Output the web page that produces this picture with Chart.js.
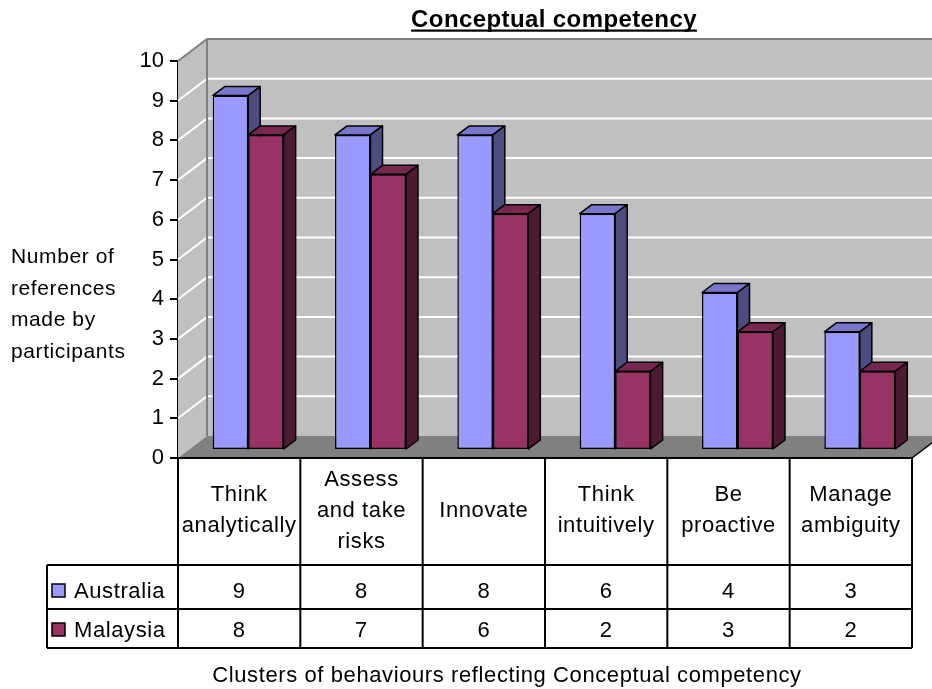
<!DOCTYPE html>
<html>
<head>
<meta charset="utf-8">
<script src="https://cdn.jsdelivr.net/npm/chart.js@4/dist/chart.umd.min.js"></script>
<style>
  html, body { margin: 0; padding: 0; background: #ffffff; }
  #wrap { width: 932px; height: 689px; }
</style>
</head>
<body>
<div id="wrap"><canvas id="chart" width="932" height="689"></canvas></div>
<script>
// Category labels (one array entry per line of text)
const categories = [
  ['Think', 'analytically'],
  ['Assess', 'and take', 'risks'],
  ['Innovate'],
  ['Think', 'intuitively'],
  ['Be', 'proactive'],
  ['Manage', 'ambiguity']
];
const seriesNames = ['Australia', 'Malaysia'];
const australia = [9, 8, 8, 6, 4, 3];
const malaysia = [8, 7, 6, 2, 3, 2];
const yMin = 0;
const yMax = 10;
const yStep = 1;

const chartTitle = 'Conceptual competency';
const yTitleLines = ['Number of', 'references', 'made by', 'participants'];
const xTitle = 'Clusters of behaviours reflecting Conceptual competency';

const FONT = '"Liberation Sans", Arial, sans-serif';

const faceColors = [
  { front: '#9999FF', top: '#7777CC', side: '#4D4D80' },
  { front: '#993366', top: '#782850', side: '#4D1A33' }
];

// Oblique projection of the 3D box: wall depth and bar depth
const WALL_DX = 29, WALL_DY = -22;
const BAR_SHIFT_X = 9, BAR_SHIFT_Y = -8;   // bars sit slightly behind the front plane
const BAR_DX = 12, BAR_DY = -9;            // bar depth
const BAR_SCALE = 0.992;                   // slight perspective shrink at bar depth

// Table rows
const TABLE = { headerBottom: 565, row1Bottom: 609, row2Bottom: 648, legendLeft: 47 };

// Top and side faces of each bar of one dataset
function drawBarFaces(ctx, meta, colors) {
  const dy = BAR_DY / BAR_SCALE;
  ctx.save();
  ctx.strokeStyle = '#000000';
  ctx.lineWidth = 1.5;
  ctx.lineJoin = 'round';
  meta.data.forEach(bar => {
    const { x, y, width, base } = bar.getProps(['x', 'y', 'width', 'base'], true);
    const x0 = x - width / 2, x1 = x + width / 2;
    ctx.fillStyle = colors.top;
    ctx.beginPath();
    ctx.moveTo(x0, y);
    ctx.lineTo(x0 + BAR_DX, y + dy);
    ctx.lineTo(x1 + BAR_DX, y + dy);
    ctx.lineTo(x1, y);
    ctx.closePath();
    ctx.fill();
    ctx.stroke();
    ctx.fillStyle = colors.side;
    ctx.beginPath();
    ctx.moveTo(x1, y);
    ctx.lineTo(x1 + BAR_DX, y + dy);
    ctx.lineTo(x1 + BAR_DX, base + dy);
    ctx.lineTo(x1, base);
    ctx.closePath();
    ctx.fill();
    ctx.stroke();
  });
  ctx.restore();
}

const scene3d = {
  id: 'scene3d',
  beforeDatasetsDraw(chart) {
    const { ctx, chartArea, scales: { y } } = chart;
    const { left, right, top, bottom } = chartArea;
    const W = chart.width;
    ctx.save();
    // back wall
    ctx.fillStyle = '#C0C0C0';
    ctx.fillRect(left + WALL_DX, top + WALL_DY, W - left - WALL_DX, bottom - top);
    // side wall
    ctx.beginPath();
    ctx.moveTo(left, top);
    ctx.lineTo(left + WALL_DX, top + WALL_DY);
    ctx.lineTo(left + WALL_DX, bottom + WALL_DY);
    ctx.lineTo(left, bottom);
    ctx.closePath();
    ctx.fill();
    // gridlines across side and back walls
    ctx.strokeStyle = '#FFFFFF';
    ctx.lineWidth = 2;
    for (let v = yMin + yStep; v < yMax; v += yStep) {
      const py = y.getPixelForValue(v);
      ctx.beginPath();
      ctx.moveTo(left, py);
      ctx.lineTo(left + WALL_DX, py + WALL_DY);
      ctx.lineTo(W, py + WALL_DY);
      ctx.stroke();
    }
    // wall edges
    ctx.strokeStyle = '#808080';
    ctx.lineWidth = 2;
    ctx.beginPath();
    ctx.moveTo(left, top);
    ctx.lineTo(left + WALL_DX, top + WALL_DY);
    ctx.lineTo(W, top + WALL_DY);
    ctx.moveTo(left + WALL_DX, top + WALL_DY);
    ctx.lineTo(left + WALL_DX, bottom + WALL_DY);
    ctx.stroke();
    // floor
    ctx.fillStyle = '#808080';
    ctx.beginPath();
    ctx.moveTo(left, bottom);
    ctx.lineTo(right, bottom);
    ctx.lineTo(right + WALL_DX, bottom + WALL_DY);
    ctx.lineTo(left + WALL_DX, bottom + WALL_DY);
    ctx.closePath();
    ctx.fill();
    ctx.strokeStyle = '#000000';
    ctx.lineWidth = 1.5;
    ctx.beginPath();
    ctx.moveTo(right, bottom);
    ctx.lineTo(right + WALL_DX, bottom + WALL_DY);
    ctx.stroke();
    ctx.restore();

    // bars are drawn in the plane slightly behind the front
    const base = y.getPixelForValue(0);
    ctx.save();
    ctx.translate(BAR_SHIFT_X, base + BAR_SHIFT_Y);
    ctx.scale(1, BAR_SCALE);
    ctx.translate(0, -base);
  },
  afterDatasetsDraw(chart) {
    const { ctx } = chart;
    // Australia (left bar) faces first, then the Malaysia bar in front of its side face
    const metaAus = chart.getDatasetMeta(0);
    const metaMal = chart.getDatasetMeta(1);
    drawBarFaces(ctx, metaAus, faceColors[0]);
    metaMal.data.forEach(el => el.draw(ctx));
    drawBarFaces(ctx, metaMal, faceColors[1]);
    ctx.restore();
  }
};

const tableAndTitles = {
  id: 'tableAndTitles',
  afterDraw(chart) {
    const { ctx, chartArea: { left, right, bottom }, scales: { x } } = chart;
    const colW = x.getPixelForValue(1) - x.getPixelForValue(0);
    ctx.save();
    ctx.fillStyle = '#000000';
    ctx.strokeStyle = '#000000';
    ctx.lineWidth = 2;

    // table grid
    ctx.beginPath();
    ctx.moveTo(left, bottom); ctx.lineTo(right, bottom);
    [TABLE.headerBottom, TABLE.row1Bottom, TABLE.row2Bottom].forEach(yy => {
      ctx.moveTo(TABLE.legendLeft, yy); ctx.lineTo(right, yy);
    });
    ctx.moveTo(TABLE.legendLeft, TABLE.headerBottom); ctx.lineTo(TABLE.legendLeft, TABLE.row2Bottom);
    for (let i = 0; i <= categories.length; i++) {
      const bx = x.getPixelForValue(0) - colW / 2 + i * colW;
      ctx.moveTo(bx, bottom); ctx.lineTo(bx, TABLE.row2Bottom);
    }
    ctx.stroke();

    // header labels
    ctx.font = '22px ' + FONT;
    ctx.letterSpacing = '0.6px';
    ctx.textAlign = 'center';
    ctx.textBaseline = 'alphabetic';
    const headerMid = (bottom + TABLE.headerBottom) / 2 - 2;
    const lh = 31;
    categories.forEach((lines, i) => {
      const cx = x.getPixelForValue(i);
      lines.forEach((t, k) => {
        ctx.fillText(t, cx, headerMid + (k - (lines.length - 1) / 2) * lh + 7);
      });
    });

    // values
    const rowBase = [598, 637];
    [australia, malaysia].forEach((vals, r) => {
      vals.forEach((v, i) => {
        ctx.fillText(String(v), x.getPixelForValue(i), rowBase[r]);
      });
    });

    // legend keys
    ctx.textAlign = 'left';
    seriesNames.forEach((name, r) => {
      ctx.fillStyle = faceColors[r].front;
      ctx.fillRect(52, rowBase[r] - 14, 13, 13);
      ctx.lineWidth = 1.5;
      ctx.strokeRect(52, rowBase[r] - 14, 13, 13);
      ctx.fillStyle = '#000000';
      ctx.fillText(name, 74, rowBase[r]);
    });

    // y title
    ctx.font = '21px ' + FONT;
    yTitleLines.forEach((t, k) => {
      ctx.fillText(t, 11, 263 + k * 31.7);
    });

    // x title
    ctx.font = '22px ' + FONT;
    ctx.textAlign = 'center';
    ctx.fillText(xTitle, 507, 682);

    // chart title, bold and underlined
    ctx.font = 'bold 24px ' + FONT;
    ctx.letterSpacing = '0.4px';
    const tw = ctx.measureText(chartTitle).width;
    ctx.fillText(chartTitle, 554, 27);
    ctx.fillRect(554 - tw / 2, 29.5, tw, 2.2);
    ctx.restore();
  }
};

new Chart(document.getElementById('chart'), {
  type: 'bar',
  data: {
    labels: categories,
    datasets: [
      { label: seriesNames[0], data: australia, backgroundColor: faceColors[0].front,
        borderColor: '#000000', borderWidth: 1.5, borderSkipped: false, clip: false },
      { label: seriesNames[1], data: malaysia, backgroundColor: faceColors[1].front,
        borderColor: '#000000', borderWidth: 1.5, borderSkipped: false, clip: false }
    ]
  },
  options: {
    responsive: false,
    devicePixelRatio: 1,
    animation: false,
    categoryPercentage: 0.58,
    barPercentage: 1,
    layout: { padding: { top: 61, right: 20, bottom: 231, left: 0 } },
    plugins: { legend: { display: false }, tooltip: { enabled: false }, title: { display: false } },
    scales: {
      x: { display: false, offset: true },
      y: {
        min: yMin, max: yMax,
        ticks: { stepSize: yStep, color: '#000000', padding: 6, font: { family: FONT, size: 22 } },
        grid: { drawOnChartArea: false, drawTicks: true, tickLength: 8, color: '#000000', lineWidth: 2 },
        border: { display: true, color: '#000000', width: 2 },
        afterFit(scale) { scale.width = 178; }
      }
    }
  },
  plugins: [scene3d, tableAndTitles]
});
</script>
</body>
</html>
